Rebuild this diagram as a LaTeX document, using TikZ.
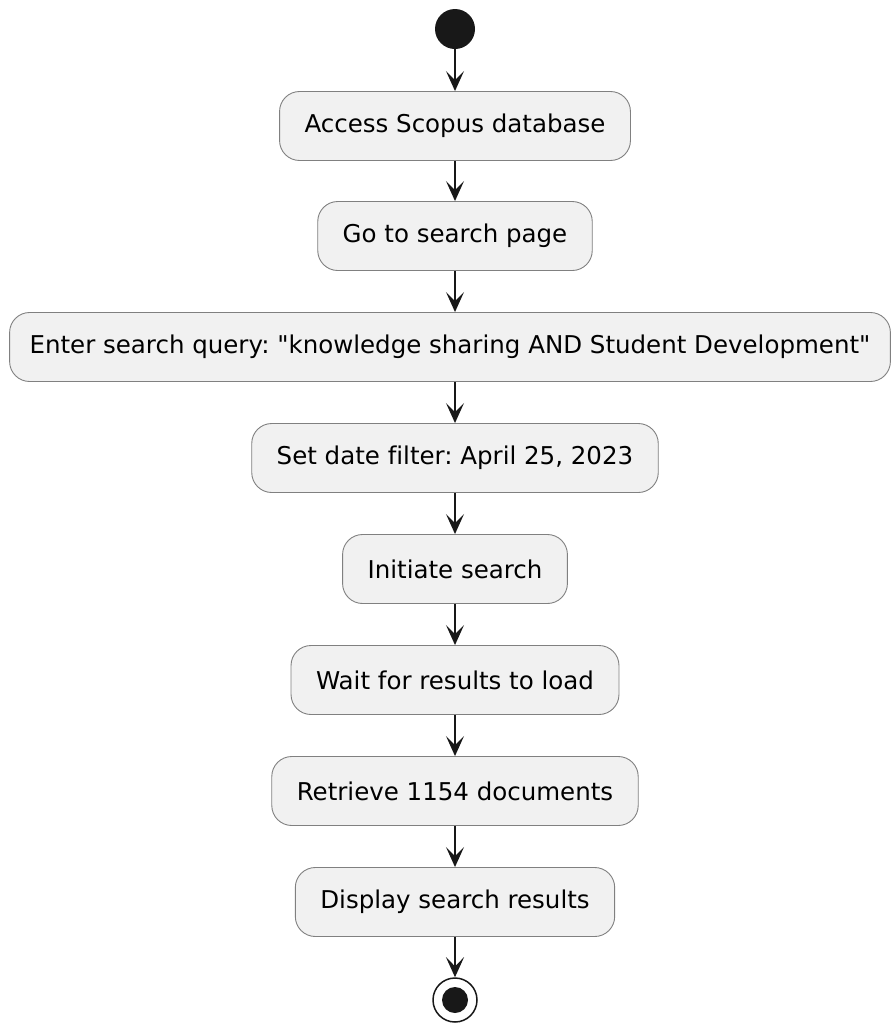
\documentclass[tikz,border=0pt]{standalone}
\usepackage{fontspec}
\setmainfont[Ligatures=NoCommon]{DejaVu Sans}
\usetikzlibrary{arrows.meta}

\definecolor{boxfill}{HTML}{F1F1F1}
\definecolor{ink}{HTML}{181818}
\frenchspacing

\begin{document}
\begin{tikzpicture}[x=1pt, y=-1pt,
    action/.style={draw=ink!55, fill=boxfill, line width=0.9pt, rounded corners=20pt,
      minimum height=69pt, inner xsep=25pt, font=\fontsize{24.5}{30}\selectfont},
    flow/.style={draw=ink, line width=1.5pt,
      -{Stealth[length=20pt, width=18pt, inset=9pt]}}]
        \useasboundingbox (0,0) rectangle (892,1023);

        % Start and stop.
        \node[circle, fill=ink, minimum size=40pt, inner sep=0pt] (start) at (455,29) {};
        \node[circle, draw=ink, line width=1.5pt, fill=white, minimum size=44pt, inner sep=0pt] (stop) at (455,1000) {};
        \fill[ink] (stop.center) circle (13pt);

        % Actions.
        \node[action] (access) at (455,126) {Access Scopus database};
        \node[action] (gopage) at (455,236) {Go to search page};
        \node[action, inner xsep=20pt] (query) at (450,347) {Enter search query: \textquotedbl knowledge sharing AND Student Development\textquotedbl};
        \node[action] (datefilter) at (455,458) {Set date filter: April 25, 2023};
        \node[action] (initiate) at (455,569) {Initiate search};
        \node[action] (wait) at (455,680) {Wait for results to load};
        \node[action] (retrieve) at (455,791) {Retrieve 1154 documents};
        \node[action] (display) at (455,902) {Display search results};

        % Flow.
        \draw[flow] (start) -- (access);
        \draw[flow] (access) -- (gopage);
        \draw[flow] (gopage.south) -- (gopage.south |- query.north);
        \draw[flow] (datefilter.north |- query.south) -- (datefilter.north);
        \draw[flow] (datefilter) -- (initiate);
        \draw[flow] (initiate) -- (wait);
        \draw[flow] (wait) -- (retrieve);
        \draw[flow] (retrieve) -- (display);
        \draw[flow] (display) -- (stop);
    \end{tikzpicture}
\end{document}
